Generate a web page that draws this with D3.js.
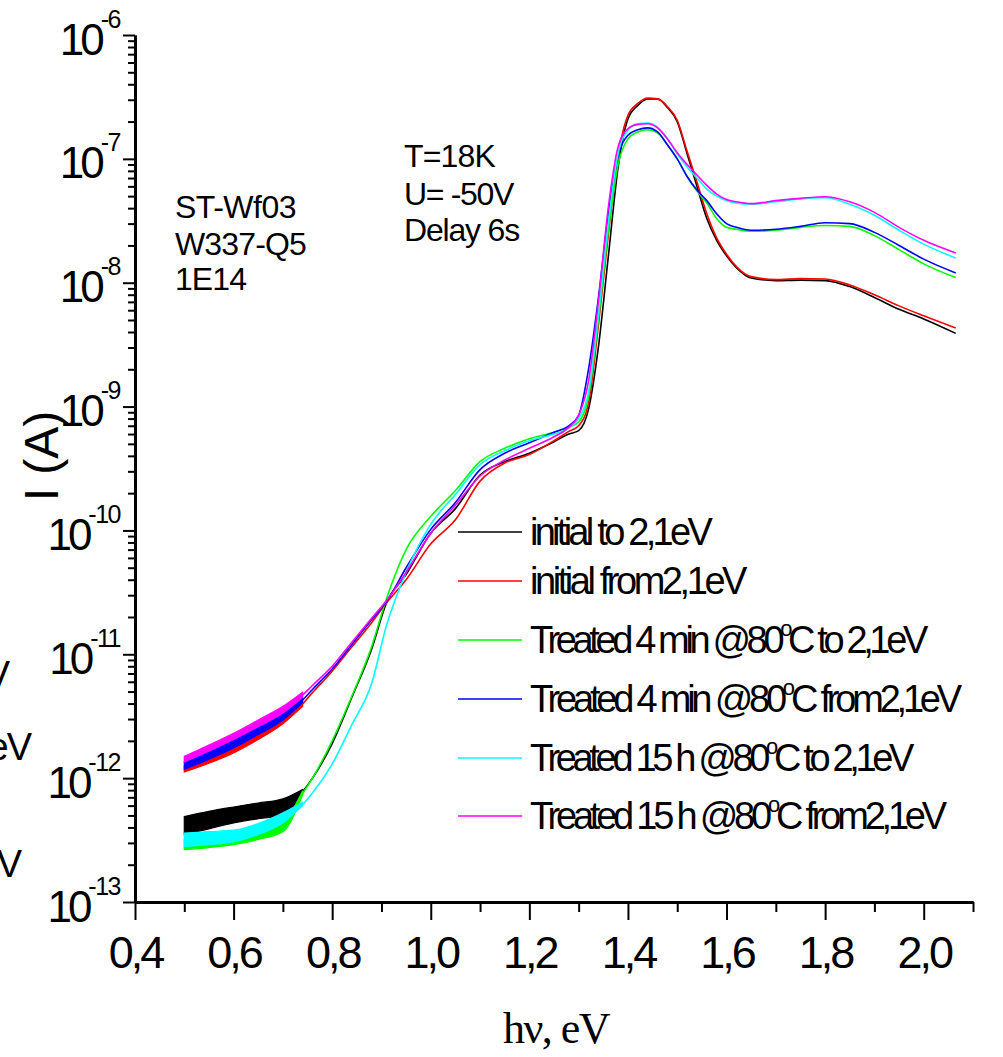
<!DOCTYPE html>
<html><head><meta charset="utf-8">
<script src="https://cdn.jsdelivr.net/npm/d3@7"></script>
<style>body{margin:0;background:#fff}svg{display:block}</style>
</head><body>
<svg id="c" width="1003" height="1057"></svg>
<script>
// ---------------- DATA ----------------
const energy = [0.50,0.55,0.60,0.65,0.70,0.73,0.76,0.80,0.84,0.88,0.91,0.95,1.00,1.05,1.10,1.15,1.20,1.25,1.28,1.30,1.32,1.34,1.36,1.38,1.40,1.42,1.44,1.46,1.48,1.50,1.52,1.54,1.56,1.58,1.60,1.62,1.65,1.70,1.75,1.80,1.85,1.90,1.95,2.00,2.065];

const initialTo = [4.1e-13,4.6e-13,5.0e-13,5.4e-13,5.8e-13,7.0e-13,1.0e-12,1.9e-12,4.5e-12,1.1e-11,2.6e-11,4.4e-11,9.5e-11,1.5e-10,2.8e-10,3.6e-10,4.2e-10,5.2e-10,6.0e-10,6.4e-10,9.5e-10,3.0e-9,1.6e-8,8.5e-8,2.1e-7,2.7e-7,3.05e-7,3.05e-7,2.6e-7,2.0e-7,1.1e-7,6.0e-8,3.3e-8,2.2e-8,1.65e-8,1.32e-8,1.09e-8,1.04e-8,1.05e-8,1.04e-8,9.3e-9,7.6e-9,6.1e-9,5.1e-9,3.9e-9];
const initialFrom = [1.18e-12,1.4e-12,1.72e-12,2.2e-12,2.95e-12,3.6e-12,4.9e-12,7.3e-12,1.15e-11,1.8e-11,2.6e-11,4.0e-11,7.8e-11,1.22e-10,2.5e-10,3.5e-10,4.1e-10,5.3e-10,6.3e-10,7.0e-10,1.06e-9,4.5e-9,2.4e-8,1.05e-7,2.25e-7,2.8e-7,3.1e-7,3.05e-7,2.65e-7,2.05e-7,1.15e-7,6.5e-8,3.6e-8,2.3e-8,1.7e-8,1.35e-8,1.12e-8,1.06e-8,1.08e-8,1.07e-8,9.6e-9,8.0e-9,6.5e-9,5.4e-9,4.3e-9];
const treated4To = [2.95e-13,3.05e-13,3.25e-13,3.55e-13,4.1e-13,6.5e-13,1.0e-12,2.0e-12,4.6e-12,1.15e-11,2.8e-11,7.0e-11,1.3e-10,2.1e-10,3.6e-10,4.6e-10,5.5e-10,6.2e-10,6.8e-10,7.5e-10,1.2e-9,5.0e-9,2.6e-8,9.0e-8,1.45e-7,1.65e-7,1.72e-7,1.62e-7,1.3e-7,1.0e-7,7.2e-8,5.5e-8,4.4e-8,3.3e-8,2.8e-8,2.7e-8,2.6e-8,2.65e-8,2.8e-8,2.9e-8,2.85e-8,2.4e-8,1.85e-8,1.42e-8,1.1e-8];
const treated4From = [1.27e-12,1.53e-12,1.9e-12,2.42e-12,3.15e-12,3.9e-12,5.2e-12,7.6e-12,1.2e-11,1.9e-11,2.65e-11,5.0e-11,1.02e-10,1.68e-10,3.1e-10,4.2e-10,5.1e-10,6.2e-10,7.0e-10,8.5e-10,2.0e-9,7.5e-9,3.5e-8,1.05e-7,1.55e-7,1.72e-7,1.78e-7,1.65e-7,1.3e-7,1.0e-7,7.2e-8,5.6e-8,4.6e-8,3.6e-8,3.0e-8,2.8e-8,2.65e-8,2.7e-8,2.85e-8,3.05e-8,3.0e-8,2.55e-8,2.0e-8,1.55e-8,1.2e-8];
const treated15To = [3.15e-13,3.3e-13,3.45e-13,3.9e-13,4.75e-13,5.6e-13,7.6e-13,1.3e-12,2.7e-12,5.8e-12,1.7e-11,4.6e-11,1.12e-10,1.95e-10,3.4e-10,4.4e-10,5.3e-10,6.0e-10,6.7e-10,8.0e-10,1.3e-9,5.5e-9,3.0e-8,1.1e-7,1.7e-7,1.92e-7,1.95e-7,1.8e-7,1.45e-7,1.1e-7,8.6e-8,7.0e-8,5.7e-8,5.0e-8,4.6e-8,4.4e-8,4.3e-8,4.5e-8,4.75e-8,4.85e-8,4.3e-8,3.5e-8,2.65e-8,2.05e-8,1.58e-8];
const treated15From = [1.42e-12,1.75e-12,2.17e-12,2.78e-12,3.55e-12,4.3e-12,5.6e-12,8.0e-12,1.25e-11,1.95e-11,2.7e-11,4.6e-11,9.5e-11,1.6e-10,2.75e-10,3.7e-10,4.6e-10,5.7e-10,6.8e-10,8.5e-10,1.6e-9,7.0e-9,4.0e-8,1.25e-7,1.75e-7,1.9e-7,1.92e-7,1.78e-7,1.45e-7,1.12e-7,9.0e-8,7.4e-8,6.1e-8,5.2e-8,4.7e-8,4.5e-8,4.35e-8,4.6e-8,4.8e-8,4.95e-8,4.5e-8,3.7e-8,2.8e-8,2.2e-8,1.74e-8];

// noise envelopes at low photon energy (upper / lower edge of the noisy trace)
const bandEnergy = [0.50,0.55,0.60,0.65,0.70,0.74];
const initialToHi = [4.9e-13,5.4e-13,5.85e-13,6.3e-13,6.8e-13,8.1e-13];
const initialToLo = [3.5e-13,3.9e-13,4.35e-13,4.7e-13,5.0e-13,7.7e-13];
const initialFromHi = [1.25e-12,1.5e-12,1.85e-12,2.4e-12,3.2e-12,4.2e-12];
const initialFromLo = [1.12e-12,1.32e-12,1.6e-12,2.05e-12,2.75e-12,3.8e-12];
const treated4ToHi = [3.2e-13,3.3e-13,3.5e-13,3.8e-13,4.4e-13,7.9e-13];
const treated4ToLo = [2.65e-13,2.75e-13,2.9e-13,3.2e-13,3.7e-13,7.3e-13];
const treated4FromHi = [1.36e-12,1.65e-12,2.05e-12,2.6e-12,3.4e-12,4.5e-12];
const treated4FromLo = [1.18e-12,1.42e-12,1.75e-12,2.25e-12,2.95e-12,4.1e-12];
const treated15ToHi = [3.6e-13,3.7e-13,3.8e-13,4.3e-13,5.25e-13,6.4e-13];
const treated15ToLo = [2.8e-13,2.9e-13,3.05e-13,3.5e-13,4.35e-13,6.0e-13];
const treated15FromHi = [1.5e-12,1.85e-12,2.3e-12,2.95e-12,3.8e-12,4.95e-12];
const treated15FromLo = [1.35e-12,1.65e-12,2.05e-12,2.6e-12,3.35e-12,4.5e-12];

const seriesLabels = ["initial to 2,1eV","initial from2,1eV","Treated 4 min @80°C to 2,1eV","Treated 4 min @80°C from2,1eV","Treated 15 h @80°C to 2,1eV","Treated 15 h @80°C from2,1eV"];
const seriesColors = ["#000000","#ff0000","#00ff00","#0000ff","#00ffff","#ff00ff"];

const xMajorTicks = [0.4,0.6,0.8,1.0,1.2,1.4,1.6,1.8,2.0];
const xMinorTicks = [0.5,0.7,0.9,1.1,1.3,1.5,1.7,1.9,2.1];
const yDecades = [-13,-12,-11,-10,-9,-8,-7,-6];
const sampleInfo = ["ST-Wf03","W337-Q5","1E14"];
const conditionInfo = ["T=18K","U= -50V","Delay 6s"];
const xTitle = "hν, eV";
const yTitle = "I (A)";

// ---------------- DRAW ----------------
const seriesValues = [initialTo, initialFrom, treated4To, treated4From, treated15To, treated15From];
const seriesHi = [initialToHi, initialFromHi, treated4ToHi, treated4FromHi, treated15ToHi, treated15FromHi];
const seriesLo = [initialToLo, initialFromLo, treated4ToLo, treated4FromLo, treated15ToLo, treated15FromLo];

const svg = d3.select("#c");
const x = d3.scaleLinear().domain([0.4, 2.1]).range([135, 973]);
const y = d3.scaleLog().domain([1e-13, 1e-6]).range([902, 35]);
const SANS = "'Liberation Sans', Arial, sans-serif";

function fit(sel, target) {
  sel.each(function () {
    const n = this.getComputedTextLength();
    const c = this.textContent.length;
    d3.select(this).attr("letter-spacing", ((target - n) / c).toFixed(2));
  });
}

// curves
const line = d3.line().x(d => x(d[0])).y(d => y(d[1])).curve(d3.curveMonotoneX);
const area = d3.area().x(d => x(d[0])).y0(d => y(d[1])).y1(d => y(d[2])).curve(d3.curveMonotoneX);
const plot = svg.append("g");
seriesValues.forEach((vals, i) => {
  plot.append("path")
    .datum(bandEnergy.map((e, k) => [e, seriesLo[i][k], seriesHi[i][k]]))
    .attr("d", area).attr("fill", seriesColors[i]).attr("stroke", seriesColors[i]).attr("stroke-width", 1.2);
  plot.append("path")
    .datum(energy.map((e, k) => [e, vals[k]]))
    .attr("d", line).attr("fill", "none").attr("stroke", seriesColors[i]).attr("stroke-width", 1.6);
});

// axes
svg.append("g").attr("transform", "translate(0,902)")
  .call(d3.axisBottom(x).tickValues(xMinorTicks).tickSize(10).tickSizeOuter(0).tickFormat(""));
const xAxis = svg.append("g").attr("transform", "translate(0,902)")
  .call(d3.axisBottom(x).tickValues(xMajorTicks).tickSize(18).tickSizeOuter(0).tickPadding(6)
    .tickFormat(d => d3.format(".1f")(d).replace(".", ",")));
xAxis.selectAll("text").attr("font-family", SANS).attr("font-size", 45).attr("fill", "#000")
  .attr("dy", null).attr("y", 66).attr("letter-spacing", -3);

const yMinor = [];
yDecades.slice(0, -1).forEach(p => { for (let m = 2; m <= 9; m++) yMinor.push(m * Math.pow(10, p)); });
svg.append("g").attr("transform", "translate(135,0)")
  .call(d3.axisLeft(y).tickValues(yMinor).tickSize(7).tickSizeOuter(0).tickFormat(""));
const yAxis = svg.append("g").attr("transform", "translate(135,0)")
  .call(d3.axisLeft(y).tickValues(yDecades.map(p => Math.pow(10, p))).tickSize(12).tickSizeOuter(0).tickFormat(""));
yAxis.selectAll(".tick").each(function (d) {
  const p = Math.round(Math.log10(d));
  const t = d3.select(this).append("text").attr("x", -15).attr("y", 19)
    .attr("text-anchor", "end").attr("font-family", SANS).attr("fill", "#000");
  t.append("tspan").attr("font-size", 44).attr("letter-spacing", -4).text("10");
  t.append("tspan").attr("font-size", 25).attr("letter-spacing", -1.5).attr("dy", -27).text(String(p));
});
svg.selectAll(".domain").attr("stroke", "#000").attr("stroke-width", 3);
svg.selectAll(".tick line").attr("stroke", "#000").attr("stroke-width", 2);

// axis titles
const xt = svg.append("text").attr("x", 556).attr("y", 1043).attr("text-anchor", "middle")
  .attr("font-family", "'Liberation Serif', 'Times New Roman', serif").attr("font-size", 44).text(xTitle);
fit(xt, 106);
svg.append("text").attr("transform", "translate(58,456) rotate(-90)").attr("text-anchor", "middle")
  .attr("font-family", SANS).attr("font-size", 48).text(yTitle);

// annotations
sampleInfo.forEach((s, i) => {
  const t = svg.append("text").attr("x", 175).attr("y", [218, 255, 290][i])
    .attr("font-family", SANS).attr("font-size", 32).text(s);
  fit(t, [121, 131, 71][i]);
});
conditionInfo.forEach((s, i) => {
  const t = svg.append("text").attr("x", 404).attr("y", [167, 205, 241][i])
    .attr("font-family", SANS).attr("font-size", 32).text(s);
  fit(t, [91, 109, 115][i]);
});

// legend
const legendLineY = [532, 581, 640, 699, 758, 816];
const legendTextW = [179, 214, 394, 428, 380, 413];
seriesLabels.forEach((lab, i) => {
  svg.append("line").attr("x1", 458).attr("x2", 522).attr("y1", legendLineY[i]).attr("y2", legendLineY[i])
    .attr("stroke", seriesColors[i]).attr("stroke-width", 1.5);
  const t = svg.append("text").attr("x", 530).attr("y", legendLineY[i] + 13)
    .attr("font-family", SANS).attr("font-size", 38);
  const parts = lab.split("°");
  if (parts.length === 2) {
    t.append("tspan").text(parts[0]);
    t.append("tspan").attr("font-size", 22).attr("dy", -17).text("o");
    t.append("tspan").attr("dy", 17).text(parts[1]);
  } else {
    t.text(lab);
  }
  fit(t, legendTextW[i]);
});

// fragments of text cut by the left edge of the picture (as in the reference)
[["eV", 8, 688], ["eV", 30, 760], ["eV", 20, 877]].forEach(([s, ex, by]) => {
  svg.append("text").attr("x", ex).attr("y", by).attr("text-anchor", "end")
    .attr("font-family", SANS).attr("font-size", 38).attr("letter-spacing", -2).text(s);
});
</script>
</body></html>
